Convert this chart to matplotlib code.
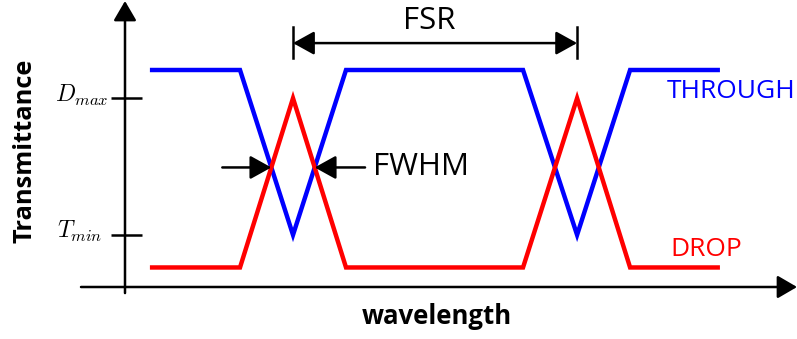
import numpy as np
import matplotlib
matplotlib.use("Agg")
import matplotlib.pyplot as plt

plt.rcParams.update({
    "font.family": ["Open Sans", "DejaVu Sans"],
    "mathtext.fontset": "cm",
})

# idealised ring-resonator response (piecewise linear), two resonances one FSR apart
wavelength = [0.94, 4.34, 6.34, 8.34, 15.02, 17.06, 19.06, 22.45]
through = [1.0, 1.0, 0.24, 1.0, 1.0, 0.24, 1.0, 1.0]
drop = [0.09, 0.09, 0.87, 0.09, 0.09, 0.87, 0.09, 0.09]
resonance_idx = [2, 5]

tick_values = [0.87, 0.24]
tick_labels = [r"$D_{max}$", r"$T_{min}$"]
tick_label_offsets = [(-2, -3), (-6, -2.5)]   # points, right/baseline anchored

BLUE = "#0000ff"
RED = "#ff0000"

# pixel layout: the y axis sits at x=125 px, the wavelength axis at y=287 px
W, H = 797, 339
PX_X, PX_Y = 26.5, 217.0      # pixels per data unit
ORIGIN_X, ORIGIN_Y = 125, 287


def crossing(x, y1, y2, i):
    """Intersection of the two curves on segment i..i+1."""
    d0 = y1[i] - y2[i]
    d1 = y1[i + 1] - y2[i + 1]
    t = d0 / (d0 - d1)
    xc = x[i] + t * (x[i + 1] - x[i])
    yc = y1[i] + t * (y1[i + 1] - y1[i])
    return xc, yc


fig = plt.figure(figsize=(W / 100, H / 100), dpi=100)
ax = fig.add_axes([0, 0, 1, 1])
ax.set_xlim(-ORIGIN_X / PX_X, (W - ORIGIN_X) / PX_X)
ax.set_ylim(-(H - ORIGIN_Y) / PX_Y, ORIGIN_Y / PX_Y)
ax.axis("off")

# hand-drawn axes with arrow heads
axis_arrow = dict(arrowstyle="-|>,head_length=0.6,head_width=0.35", lw=1.8,
                  color="black", mutation_scale=20, shrinkA=0, shrinkB=0)
ax.annotate("", xy=(0, 1.318), xytext=(0, -0.028), arrowprops=axis_arrow)
ax.annotate("", xy=(25.36, 0), xytext=(-1.66, 0), arrowprops=axis_arrow)

for val, lab, off in zip(tick_values, tick_labels, tick_label_offsets):
    ax.plot([-0.53, 0.64], [val, val], color="black", lw=1.8, solid_capstyle="butt")
    ax.annotate(lab, xy=(-0.53, val), xytext=off, textcoords="offset points",
                ha="right", va="baseline", fontsize=17)

ax.plot(wavelength, through, color=BLUE, lw=3.2, solid_joinstyle="miter",
        solid_capstyle="butt")
ax.plot(wavelength, drop, color=RED, lw=3.2, solid_joinstyle="miter",
        solid_capstyle="butt")

# FSR marker between the two resonances
r1, r2 = (wavelength[i] for i in resonance_idx)
fsr_y = 1.124
ax.annotate("", xy=(r2, fsr_y), xytext=(r1, fsr_y),
            arrowprops=dict(arrowstyle="<|-|>,head_length=0.65,head_width=0.36",
                            lw=1.8, color="black", mutation_scale=20,
                            shrinkA=0, shrinkB=0))
for r in (r1, r2):
    ax.plot([r, r], [1.055, 1.198], color="black", lw=1.8)
ax.text((r1 + r2) / 2 - 0.2, 1.226, "FSR", ha="center", va="center", fontsize=22.5)

# FWHM arrows pointing at the half-maximum crossings of the first resonance
xl, yl = crossing(wavelength, through, drop, 1)
xr, yr = crossing(wavelength, through, drop, 2)
fw_arrow = dict(arrowstyle="-|>,head_length=0.65,head_width=0.36", lw=1.8,
                color="black", mutation_scale=20, shrinkA=0, shrinkB=0)
ax.annotate("", xy=(xl, yl), xytext=(xl - 1.85, yl), arrowprops=fw_arrow)
ax.annotate("", xy=(xr, yr), xytext=(xr + 1.9, yr), arrowprops=fw_arrow)
ax.text(xr + 2.2, yr, "FWHM", ha="left", va="center", fontsize=22.5)

ax.text(20.45, 0.903, "THROUGH", color=BLUE, ha="left", va="center", fontsize=19)
ax.text(20.57, 0.175, "DROP", color=RED, ha="left", va="center", fontsize=19)

fig.text(25 / W, 1 - 151 / H, "Transmittance", rotation=90, ha="center",
         va="center", fontsize=18.3, fontweight="bold")
fig.text(437 / W, 1 - 316 / H, "wavelength", ha="center", va="center",
         fontsize=18.5, fontweight="bold")

fig.savefig("out.png", dpi=100)
